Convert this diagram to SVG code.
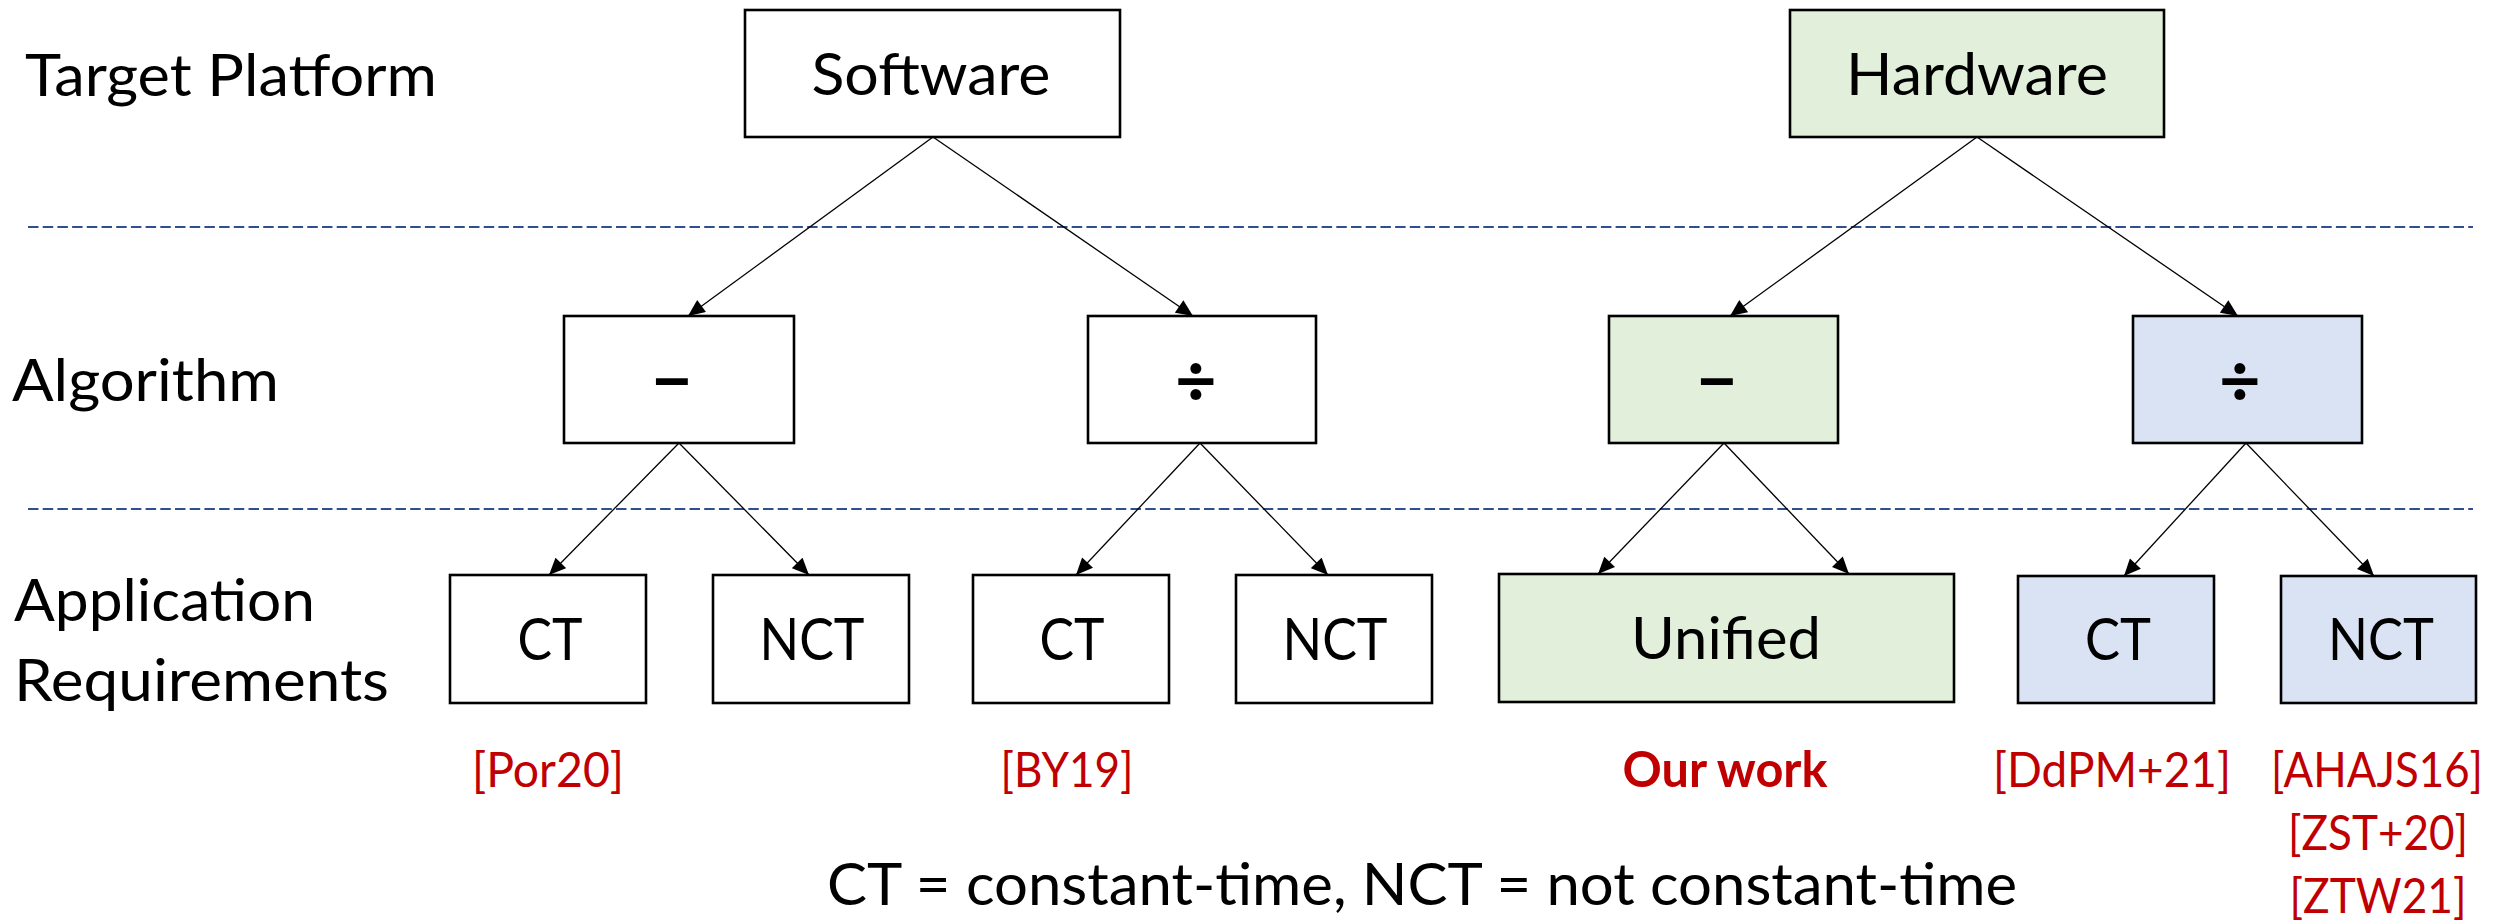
<svg xmlns="http://www.w3.org/2000/svg" width="2499" height="923" viewBox="0 0 2499 923">
<defs>
<style>
.box{stroke:#000;stroke-width:2.6;fill:#fff}
.g{fill:#E2EFDA}
.b{fill:#DAE3F3}
.t{font-family:Lato,"Liberation Sans",sans-serif;font-size:59px;fill:#000}
.c{text-anchor:middle}
.r{font-family:Lato,"Liberation Sans",sans-serif;font-size:49px;fill:#C00000;text-anchor:middle}
.op{font-family:Lato,"DejaVu Sans",sans-serif;font-size:72px;font-weight:bold;fill:#000;text-anchor:middle}
.dash{stroke:#2F4F8F;stroke-width:2;stroke-dasharray:10.5 4.2;fill:none}
.con line{stroke:#000;stroke-width:1.3;marker-end:url(#ah)}
</style>
<marker id="ah" viewBox="0 0 18 16" markerWidth="18" markerHeight="15" refX="18" refY="8" orient="auto" markerUnits="userSpaceOnUse">
<path d="M0,0 L18,8 L0,16 z" fill="#000"/>
</marker>
</defs>
<rect width="2499" height="923" fill="#fff"/>

<g id="separators">
<line class="dash" x1="28" y1="227" x2="2473" y2="227"/>
<line class="dash" x1="28" y1="509" x2="2473" y2="509"/>
</g>

<g id="row-labels">
<text class="t" x="25" y="96" textLength="412" lengthAdjust="spacingAndGlyphs">Target Platform</text>
<text class="t" x="12" y="401" textLength="267" lengthAdjust="spacingAndGlyphs">Algorithm</text>
<text class="t" x="14" y="621" textLength="301" lengthAdjust="spacingAndGlyphs">Application</text>
<text class="t" x="14" y="701" textLength="375" lengthAdjust="spacingAndGlyphs">Requirements</text>
</g>

<g id="connectors" class="con">
<line x1="933" y1="137" x2="688" y2="316"/>
<line x1="933" y1="137" x2="1193" y2="316"/>
<line x1="1977" y1="137" x2="1730" y2="316"/>
<line x1="1977" y1="137" x2="2238" y2="316"/>
<line x1="679" y1="443" x2="549" y2="575"/>
<line x1="679" y1="443" x2="809" y2="575"/>
<line x1="1200" y1="443" x2="1076" y2="575"/>
<line x1="1200" y1="443" x2="1328" y2="575"/>
<line x1="1724" y1="443" x2="1598" y2="574"/>
<line x1="1724" y1="443" x2="1849" y2="574"/>
<line x1="2246" y1="443" x2="2124" y2="576"/>
<line x1="2246" y1="443" x2="2374" y2="576"/>
</g>

<g id="software">
<rect class="box" x="745" y="10" width="375" height="127"/>
<text class="t c" x="931" y="95" textLength="239" lengthAdjust="spacingAndGlyphs">Software</text>
</g>
<g id="hardware">
<rect class="box g" x="1790" y="10" width="374" height="127"/>
<text class="t c" x="1977" y="95" textLength="262" lengthAdjust="spacingAndGlyphs">Hardware</text>
</g>

<g id="sw-minus">
<rect class="box" x="564" y="316" width="230" height="127"/>
<text class="op" x="672" y="406">−</text>
</g>
<g id="sw-div">
<rect class="box" x="1088" y="316" width="228" height="127"/>
<text class="op" x="1196" y="406">÷</text>
</g>
<g id="hw-minus">
<rect class="box g" x="1609" y="316" width="229" height="127"/>
<text class="op" x="1717" y="406">−</text>
</g>
<g id="hw-div">
<rect class="box b" x="2133" y="316" width="229" height="127"/>
<text class="op" x="2240" y="406">÷</text>
</g>

<g id="sw-minus-ct">
<rect class="box" x="450" y="575" width="196" height="128"/>
<text class="t c" x="550" y="660" textLength="65" lengthAdjust="spacingAndGlyphs">CT</text>
</g>
<g id="sw-minus-nct">
<rect class="box" x="713" y="575" width="196" height="128"/>
<text class="t c" x="812" y="660" textLength="105" lengthAdjust="spacingAndGlyphs">NCT</text>
</g>
<g id="sw-div-ct">
<rect class="box" x="973" y="575" width="196" height="128"/>
<text class="t c" x="1072" y="660" textLength="65" lengthAdjust="spacingAndGlyphs">CT</text>
</g>
<g id="sw-div-nct">
<rect class="box" x="1236" y="575" width="196" height="128"/>
<text class="t c" x="1335" y="660" textLength="105" lengthAdjust="spacingAndGlyphs">NCT</text>
</g>
<g id="hw-unified">
<rect class="box g" x="1499" y="574" width="455" height="128"/>
<text class="t c" x="1726" y="659" textLength="190" lengthAdjust="spacingAndGlyphs">Unified</text>
</g>
<g id="hw-div-ct">
<rect class="box b" x="2018" y="576" width="196" height="127"/>
<text class="t c" x="2118" y="660" textLength="66" lengthAdjust="spacingAndGlyphs">CT</text>
</g>
<g id="hw-div-nct">
<rect class="box b" x="2281" y="576" width="195" height="127"/>
<text class="t c" x="2381" y="660" textLength="106" lengthAdjust="spacingAndGlyphs">NCT</text>
</g>

<g id="references">
<text class="r" x="548" y="787" textLength="152" lengthAdjust="spacingAndGlyphs">[Por20]</text>
<text class="r" x="1067" y="787" textLength="133" lengthAdjust="spacingAndGlyphs">[BY19]</text>
<text class="r" x="1725" y="787" font-weight="bold" textLength="205" lengthAdjust="spacingAndGlyphs">Our work</text>
<text class="r" x="2112" y="787" textLength="238" lengthAdjust="spacingAndGlyphs">[DdPM+21]</text>
<text class="r" x="2377" y="787" textLength="212" lengthAdjust="spacingAndGlyphs">[AHAJS16]</text>
<text class="r" x="2378" y="850" textLength="180" lengthAdjust="spacingAndGlyphs">[ZST+20]</text>
<text class="r" x="2378" y="913" textLength="177" lengthAdjust="spacingAndGlyphs">[ZTW21]</text>
</g>

<g id="legend">
<text class="t" x="827" y="905" textLength="1190" lengthAdjust="spacingAndGlyphs">CT = constant-time, NCT = not constant-time</text>
</g>
</svg>
